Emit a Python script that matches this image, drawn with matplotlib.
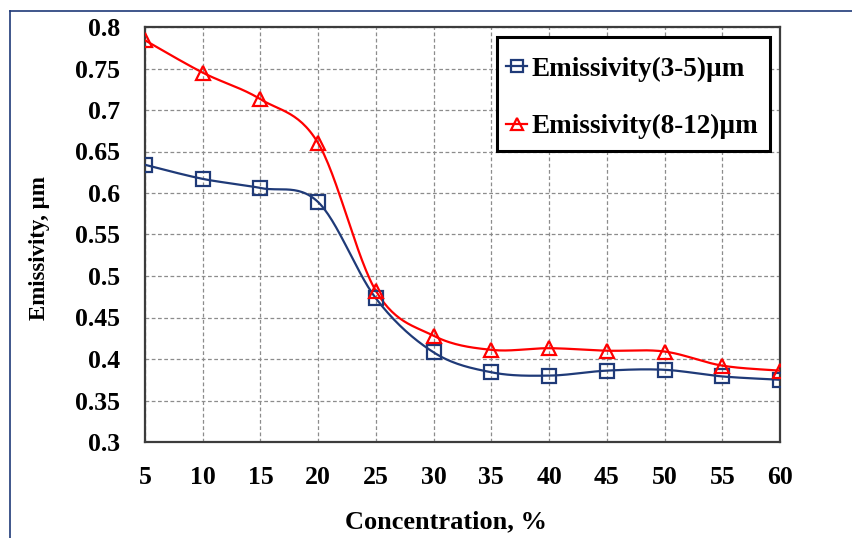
import numpy as np
import matplotlib.pyplot as plt
from matplotlib.lines import Line2D
from matplotlib.patches import Rectangle
from matplotlib.ticker import FuncFormatter

# data
concentration = [5, 10, 15, 20, 25, 30, 35, 40, 45, 50, 55, 60]
emis_3_5 = [0.634, 0.617, 0.606, 0.589, 0.473, 0.408, 0.384, 0.380, 0.386, 0.387, 0.379, 0.375]
emis_8_12 = [0.784, 0.745, 0.713, 0.660, 0.482, 0.428, 0.411, 0.413, 0.410, 0.409, 0.392, 0.386]

x_ticks = [5, 10, 15, 20, 25, 30, 35, 40, 45, 50, 55, 60]
y_ticks = [0.3, 0.35, 0.4, 0.45, 0.5, 0.55, 0.6, 0.65, 0.7, 0.75, 0.8]

plt.rcParams['font.family'] = ['Liberation Serif', 'DejaVu Serif']
plt.rcParams['font.weight'] = 'bold'


def smooth(x, y, n=30):
    """Catmull-Rom spline through the points (like Excel's smoothed line)."""
    x = np.asarray(x, float)
    y = np.asarray(y, float)
    px = np.concatenate([[x[0]], x, [x[-1]]])
    py = np.concatenate([[y[0]], y, [y[-1]]])
    xs, ys = [], []
    t = np.linspace(0, 1, n)
    for i in range(1, len(px) - 2):
        p0x, p1x, p2x, p3x = px[i - 1:i + 3]
        p0y, p1y, p2y, p3y = py[i - 1:i + 3]
        # bezier control points
        c1x, c1y = p1x + (p2x - p0x) / 6, p1y + (p2y - p0y) / 6
        c2x, c2y = p2x - (p3x - p1x) / 6, p2y - (p3y - p1y) / 6
        bx = (1 - t) ** 3 * p1x + 3 * (1 - t) ** 2 * t * c1x + 3 * (1 - t) * t ** 2 * c2x + t ** 3 * p2x
        by = (1 - t) ** 3 * p1y + 3 * (1 - t) ** 2 * t * c1y + 3 * (1 - t) * t ** 2 * c2y + t ** 3 * p2y
        xs.append(bx)
        ys.append(by)
    return np.concatenate(xs), np.concatenate(ys)


fig = plt.figure(figsize=(8.52, 5.38), dpi=100)
ax = fig.add_axes([145 / 852, 1 - 442 / 538, 635 / 852, 415 / 538])

blue = '#1F3A78'
red = '#FF0000'

for yv, col, mk, lab in [(emis_3_5, blue, 's', 'Emissivity(3-5)µm'),
                         (emis_8_12, red, '^', 'Emissivity(8-12)µm')]:
    sx, sy = smooth(concentration, yv)
    ax.plot(sx, sy, color=col, lw=1.6, zorder=3)
    ax.plot(concentration, yv, linestyle='none', marker=mk, ms=10, mfc='none',
            mec=col, mew=1.6, zorder=4)
    # legend proxy
    ax.plot([], [], color=col, lw=1.6, marker=mk, ms=9, mfc='none', mec=col,
            mew=1.6, label=lab)

ax.set_xlim(5, 60)
ax.set_ylim(0.3, 0.8)
ax.set_xticks(x_ticks)
ax.set_yticks(y_ticks)
ax.yaxis.set_major_formatter(FuncFormatter(lambda v, p: f'{v:g}'))
ax.tick_params(length=0, labelsize=18.5)
ax.tick_params(axis='x', pad=17)
ax.tick_params(axis='y', pad=18)

ax.grid(True, color='#8C8C8C', linestyle=(0, (3, 2)), lw=0.9)
ax.set_axisbelow(True)
for s in ax.spines.values():
    s.set_color('#3C3C3C')
    s.set_linewidth(1.6)

ax.set_xlabel('Concentration, %', fontsize=19, fontweight='bold')
ax.xaxis.set_label_coords(0.474, -0.164)
ax.set_ylabel('Emissivity, µm', fontsize=16.5, fontweight='bold')
ax.yaxis.set_label_coords(-0.15, 0.467)

# legend frame drawn separately so the Excel-like padding can be matched
ax.add_patch(Rectangle((0.554, 0.701), 0.430, 0.275, transform=ax.transAxes,
                       facecolor='white', edgecolor='black', lw=2.2, zorder=5))
leg = ax.legend(loc='center', bbox_to_anchor=(0.767, 0.829), frameon=False,
                fontsize=19.5, handlelength=0.8, handletextpad=0.15,
                labelspacing=1.2, borderpad=0, borderaxespad=0)
leg.set_zorder(6)
for t in leg.get_texts():
    t.set_fontweight('bold')

# outer chart border (only left and top visible in the crop)
fig.add_artist(Line2D([9.5 / 852, 9.5 / 852], [0, 1 - 11 / 538], color=blue, lw=1.2))
fig.add_artist(Line2D([9.5 / 852, 1], [1 - 11 / 538, 1 - 11 / 538], color=blue, lw=1.2))

fig.savefig('out.png', dpi=100, facecolor='white')
